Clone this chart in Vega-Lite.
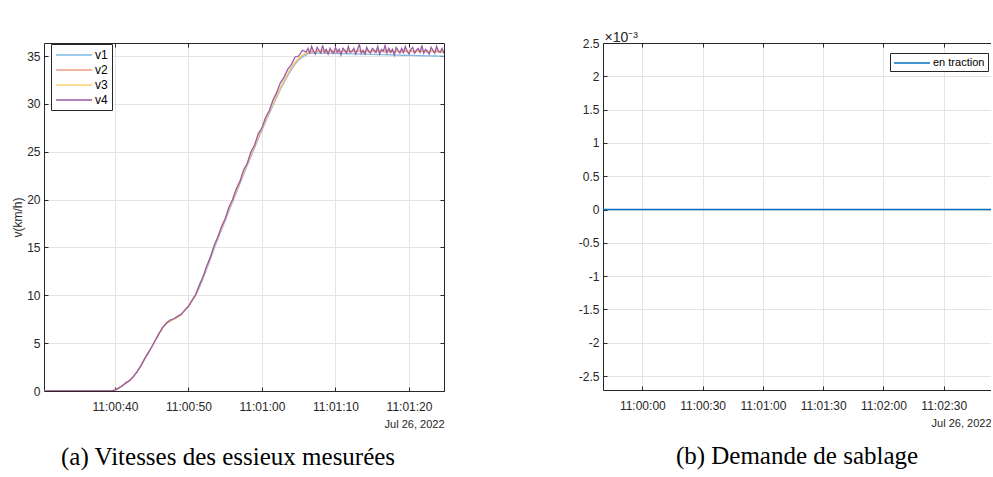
{
"$schema": "https://vega.github.io/schema/vega-lite/v6.json",
"background": "white",
"padding": {"left": 11, "top": 30, "right": 0, "bottom": 2},
"bounds": "flush",
"spacing": 159,
"resolve": {"scale": {"color": "independent"}, "legend": {"color": "independent"}},
"config": {
  "view": {"stroke": null},
  "font": "Liberation Sans",
  "axis": {"domainColor": "#262626", "tickColor": "#262626", "labelColor": "#262626", "titleColor": "#262626", "labelFont": "Liberation Sans", "titleFont": "Liberation Sans", "labelFontSize": 12, "titleFontSize": 12, "titleFontWeight": "normal", "gridColor": "#e4e4e4", "domainWidth": 1, "tickWidth": 1},
  "legend": {"labelFont": "Liberation Sans", "labelColor": "#000000", "strokeColor": "#262626", "fillColor": "white", "title": null}
},
"hconcat": [
{
  "width": 400, "height": 348,
  "title": {"text": "(a) Vitesses des essieux mesurées", "orient": "bottom", "anchor": "middle", "frame": "bounds", "font": "Liberation Serif", "fontSize": 25, "fontWeight": "normal", "color": "#000000", "offset": 16},
  "data": {"values": [
{"t":30.35,"v1":0,"v2":0,"v3":0,"v4":0},
{"t":39.5,"v1":0,"v2":0,"v3":0,"v4":0},
{"t":40,"v1":0.1,"v2":0.1,"v3":0.1,"v4":0.1},
{"t":40.5,"v1":0.3,"v2":0.3,"v3":0.3,"v4":0.3},
{"t":41,"v1":0.55,"v2":0.55,"v3":0.55,"v4":0.55},
{"t":41.5,"v1":0.85,"v2":0.85,"v3":0.85,"v4":0.85},
{"t":42,"v1":1.1,"v2":1.1,"v3":1.1,"v4":1.1},
{"t":42.5,"v1":1.5,"v2":1.5,"v3":1.5,"v4":1.5},
{"t":43,"v1":2.0,"v2":2.0,"v3":2.0,"v4":2.0},
{"t":43.5,"v1":2.6,"v2":2.6,"v3":2.6,"v4":2.6},
{"t":44,"v1":3.3,"v2":3.3,"v3":3.3,"v4":3.3},
{"t":44.5,"v1":3.95,"v2":3.95,"v3":3.95,"v4":3.95},
{"t":45,"v1":4.6,"v2":4.6,"v3":4.6,"v4":4.6},
{"t":45.5,"v1":5.3,"v2":5.3,"v3":5.3,"v4":5.3},
{"t":46,"v1":6.0,"v2":6.0,"v3":6.0,"v4":6.0},
{"t":46.5,"v1":6.65,"v2":6.65,"v3":6.65,"v4":6.65},
{"t":47,"v1":7.05,"v2":7.05,"v3":7.05,"v4":7.1},
{"t":47.5,"v1":7.3,"v2":7.3,"v3":7.3,"v4":7.4},
{"t":48,"v1":7.5,"v2":7.5,"v3":7.5,"v4":7.55},
{"t":48.5,"v1":7.7,"v2":7.7,"v3":7.7,"v4":7.8},
{"t":49,"v1":8.0,"v2":8.0,"v3":8.0,"v4":8.0},
{"t":49.5,"v1":8.4,"v2":8.4,"v3":8.4,"v4":8.45},
{"t":50,"v1":8.85,"v2":8.85,"v3":8.85,"v4":8.85},
{"t":50.5,"v1":9.45,"v2":9.45,"v3":9.45,"v4":9.5},
{"t":51,"v1":10.05,"v2":10.1,"v3":10.1,"v4":10.1},
{"t":51.5,"v1":10.85,"v2":11.0,"v3":11.05,"v4":11.1},
{"t":52,"v1":11.8,"v2":11.95,"v3":12.0,"v4":11.95},
{"t":52.5,"v1":12.8,"v2":12.95,"v3":13.0,"v4":13.1},
{"t":53,"v1":13.85,"v2":14.0,"v3":14.05,"v4":14.0},
{"t":53.5,"v1":14.9,"v2":15.05,"v3":15.1,"v4":15.2},
{"t":54,"v1":15.9,"v2":16.05,"v3":16.1,"v4":16.1},
{"t":54.5,"v1":16.85,"v2":17.0,"v3":17.05,"v4":17.2},
{"t":55,"v1":17.8,"v2":17.95,"v3":18.0,"v4":18.0},
{"t":55.5,"v1":18.8,"v2":18.95,"v3":19.0,"v4":19.2},
{"t":56,"v1":19.75,"v2":19.9,"v3":19.95,"v4":20.0},
{"t":56.5,"v1":20.7,"v2":20.85,"v3":20.9,"v4":21.1},
{"t":57,"v1":21.65,"v2":21.8,"v3":21.85,"v4":21.9},
{"t":57.5,"v1":22.6,"v2":22.75,"v3":22.8,"v4":23.1},
{"t":58,"v1":23.55,"v2":23.7,"v3":23.75,"v4":23.8},
{"t":58.5,"v1":24.5,"v2":24.65,"v3":24.7,"v4":25.0},
{"t":59,"v1":25.45,"v2":25.6,"v3":25.65,"v4":25.7},
{"t":59.5,"v1":26.35,"v2":26.5,"v3":26.55,"v4":26.9},
{"t":60,"v1":27.25,"v2":27.4,"v3":27.45,"v4":27.5},
{"t":60.5,"v1":28.15,"v2":28.3,"v3":28.35,"v4":28.6},
{"t":61,"v1":29.0,"v2":29.15,"v3":29.2,"v4":29.3},
{"t":61.5,"v1":29.85,"v2":30.0,"v3":30.05,"v4":30.4},
{"t":62,"v1":30.7,"v2":30.85,"v3":30.9,"v4":31.2},
{"t":62.5,"v1":31.5,"v2":31.65,"v3":31.7,"v4":32.2},
{"t":63,"v1":32.25,"v2":32.4,"v3":32.45,"v4":32.8},
{"t":63.5,"v1":32.95,"v2":33.1,"v3":33.15,"v4":33.6},
{"t":64,"v1":33.6,"v2":33.75,"v3":33.8,"v4":34.1},
{"t":64.5,"v1":34.15,"v2":34.3,"v3":34.35,"v4":34.9},
{"t":65,"v1":34.6,"v2":34.75,"v3":34.8,"v4":35.0},
{"t":65.5,"v1":34.9,"v2":35.05,"v3":35.1,"v4":35.6},
{"t":66,"v1":35.1,"v2":35.25,"v3":35.3,"v4":35.4},
{"t":66.25,"v1":35.28,"v2":35.35,"v3":35.4,"v4":35.8},
{"t":66.5,"v1":35.3,"v2":35.45,"v3":35.5,"v4":35.3},
{"t":66.75,"v1":35.3,"v2":35.4,"v3":35.6,"v4":36.0},
{"t":67,"v1":35.32,"v2":35.5,"v3":35.55,"v4":35.5},
{"t":67.25,"v1":35.3,"v2":35.35,"v3":35.45,"v4":35.2},
{"t":67.5,"v1":35.3,"v2":35.45,"v3":35.6,"v4":35.9},
{"t":67.75,"v1":35.28,"v2":35.5,"v3":35.5,"v4":35.6},
{"t":68,"v1":35.3,"v2":35.4,"v3":35.65,"v4":35.3},
{"t":68.25,"v1":35.3,"v2":35.55,"v3":35.5,"v4":36.1},
{"t":68.5,"v1":35.28,"v2":35.4,"v3":35.55,"v4":35.4},
{"t":68.75,"v1":35.3,"v2":35.45,"v3":35.6,"v4":35.7},
{"t":69,"v1":35.27,"v2":35.35,"v3":35.45,"v4":35.2},
{"t":69.25,"v1":35.28,"v2":35.5,"v3":35.55,"v4":35.8},
{"t":69.5,"v1":35.27,"v2":35.4,"v3":35.6,"v4":35.5},
{"t":69.75,"v1":35.25,"v2":35.45,"v3":35.5,"v4":35.3},
{"t":70,"v1":35.27,"v2":35.5,"v3":35.65,"v4":35.9},
{"t":70.25,"v1":35.25,"v2":35.35,"v3":35.5,"v4":35.4},
{"t":70.5,"v1":35.25,"v2":35.45,"v3":35.55,"v4":35.7},
{"t":70.75,"v1":35.26,"v2":35.4,"v3":35.45,"v4":35.1},
{"t":71,"v1":35.24,"v2":35.5,"v3":35.6,"v4":35.8},
{"t":71.25,"v1":35.25,"v2":35.45,"v3":35.55,"v4":35.6},
{"t":71.5,"v1":35.24,"v2":35.35,"v3":35.5,"v4":35.3},
{"t":71.75,"v1":35.23,"v2":35.5,"v3":35.65,"v4":36.0},
{"t":72,"v1":35.24,"v2":35.4,"v3":35.5,"v4":35.4},
{"t":72.25,"v1":35.22,"v2":35.45,"v3":35.55,"v4":35.5},
{"t":72.5,"v1":35.23,"v2":35.5,"v3":35.6,"v4":35.8},
{"t":72.75,"v1":35.22,"v2":35.35,"v3":35.45,"v4":35.2},
{"t":73,"v1":35.2,"v2":35.45,"v3":35.6,"v4":35.7},
{"t":73.25,"v1":35.22,"v2":35.55,"v3":35.65,"v4":36.2},
{"t":73.5,"v1":35.2,"v2":35.4,"v3":35.5,"v4":35.3},
{"t":73.75,"v1":35.2,"v2":35.45,"v3":35.55,"v4":35.6},
{"t":74,"v1":35.19,"v2":35.35,"v3":35.5,"v4":35.2},
{"t":74.25,"v1":35.2,"v2":35.5,"v3":35.6,"v4":35.9},
{"t":74.5,"v1":35.18,"v2":35.45,"v3":35.55,"v4":35.5},
{"t":74.75,"v1":35.18,"v2":35.4,"v3":35.5,"v4":35.3},
{"t":75,"v1":35.17,"v2":35.5,"v3":35.6,"v4":35.8},
{"t":75.25,"v1":35.18,"v2":35.45,"v3":35.55,"v4":35.6},
{"t":75.5,"v1":35.16,"v2":35.35,"v3":35.5,"v4":35.4},
{"t":75.75,"v1":35.15,"v2":35.55,"v3":35.65,"v4":36.0},
{"t":76,"v1":35.16,"v2":35.4,"v3":35.5,"v4":35.2},
{"t":76.25,"v1":35.15,"v2":35.45,"v3":35.55,"v4":35.7},
{"t":76.5,"v1":35.14,"v2":35.5,"v3":35.6,"v4":35.5},
{"t":76.75,"v1":35.15,"v2":35.4,"v3":35.55,"v4":36.1},
{"t":77,"v1":35.13,"v2":35.5,"v3":35.6,"v4":35.3},
{"t":77.25,"v1":35.12,"v2":35.45,"v3":35.55,"v4":35.8},
{"t":77.5,"v1":35.13,"v2":35.35,"v3":35.5,"v4":35.4},
{"t":77.75,"v1":35.12,"v2":35.5,"v3":35.6,"v4":35.7},
{"t":78,"v1":35.1,"v2":35.4,"v3":35.45,"v4":35.1},
{"t":78.25,"v1":35.11,"v2":35.45,"v3":35.6,"v4":35.9},
{"t":78.5,"v1":35.1,"v2":35.5,"v3":35.55,"v4":35.6},
{"t":78.75,"v1":35.1,"v2":35.4,"v3":35.5,"v4":35.3},
{"t":79,"v1":35.08,"v2":35.45,"v3":35.6,"v4":35.8},
{"t":79.25,"v1":35.09,"v2":35.35,"v3":35.5,"v4":35.4},
{"t":79.5,"v1":35.08,"v2":35.5,"v3":35.6,"v4":36.0},
{"t":79.75,"v1":35.07,"v2":35.45,"v3":35.55,"v4":35.5},
{"t":80,"v1":35.07,"v2":35.4,"v3":35.5,"v4":35.2},
{"t":80.25,"v1":35.06,"v2":35.45,"v3":35.55,"v4":35.7},
{"t":80.5,"v1":35.06,"v2":35.5,"v3":35.6,"v4":35.9},
{"t":80.75,"v1":35.05,"v2":35.35,"v3":35.45,"v4":35.3},
{"t":81,"v1":35.05,"v2":35.45,"v3":35.55,"v4":35.6},
{"t":81.25,"v1":35.04,"v2":35.5,"v3":35.6,"v4":35.8},
{"t":81.5,"v1":35.04,"v2":35.4,"v3":35.5,"v4":35.4},
{"t":81.75,"v1":35.03,"v2":35.55,"v3":35.6,"v4":36.1},
{"t":82,"v1":35.03,"v2":35.4,"v3":35.5,"v4":35.3},
{"t":82.25,"v1":35.02,"v2":35.45,"v3":35.55,"v4":35.7},
{"t":82.5,"v1":35.02,"v2":35.4,"v3":35.5,"v4":35.5},
{"t":82.75,"v1":35.01,"v2":35.35,"v3":35.45,"v4":35.2},
{"t":83,"v1":35.01,"v2":35.5,"v3":35.6,"v4":35.9},
{"t":83.25,"v1":35.0,"v2":35.45,"v3":35.55,"v4":35.6},
{"t":83.5,"v1":35.0,"v2":35.35,"v3":35.5,"v4":35.3},
{"t":83.75,"v1":35.0,"v2":35.5,"v3":35.6,"v4":36.0},
{"t":84,"v1":34.99,"v2":35.4,"v3":35.5,"v4":35.5},
{"t":84.25,"v1":34.99,"v2":35.35,"v3":35.45,"v4":35.4},
{"t":84.5,"v1":34.98,"v2":35.45,"v3":35.55,"v4":35.8},
{"t":84.75,"v1":34.98,"v2":35.3,"v3":35.4,"v4":35.3}
  ]},
  "transform": [{"fold": ["v1", "v2", "v3", "v4"], "as": ["serie", "vitesse"]}],
  "layer": [
    {
      "mark": {"type": "line", "strokeWidth": 1.3, "clip": true},
      "encoding": {
        "x": {"field": "t", "type": "quantitative", "scale": {"domain": [30.35, 84.76], "nice": false, "zero": false},
          "axis": {"orient": "bottom", "values": [40, 50, 60, 70, 80], "labelExpr": "'11:0' + floor(datum.value/60) + ':' + (datum.value%60 < 10 ? '0' : '') + (datum.value%60)", "grid": true, "tickSize": -4, "labelPadding": 14, "title": "Jul 26, 2022", "titleAnchor": "end", "titlePadding": 6, "titleFontSize": 11}},
        "y": {"field": "vitesse", "type": "quantitative", "scale": {"domain": [0, 36.36], "nice": false, "zero": false},
          "axis": {"orient": "left", "values": [0, 5, 10, 15, 20, 25, 30, 35], "grid": true, "tickSize": -4, "labelPadding": 8, "title": "v(km/h)", "titlePadding": 2}},
        "color": {"field": "serie", "type": "nominal", "scale": {"domain": ["v1", "v2", "v3", "v4"], "range": ["#7fbbe3", "#ee9e80", "#f6cf72", "#9b5aa8"]},
          "legend": {"orient": "none", "legendX": 7, "legendY": 1, "symbolType": "M-3,0H3", "symbolSize": 144, "symbolStrokeWidth": 1.5, "symbolOffset": 12, "labelOffset": 14, "labelFontSize": 12, "padding": 4, "rowPadding": 2}}
      }
    },
    {
      "mark": {"type": "line", "opacity": 0},
      "encoding": {
        "x": {"field": "t", "type": "quantitative", "axis": {"orient": "top", "values": [40, 50, 60, 70, 80], "labels": false, "grid": false, "tickSize": -4, "title": null}},
        "y": {"field": "vitesse", "type": "quantitative", "axis": {"orient": "right", "values": [0, 5, 10, 15, 20, 25, 30, 35], "labels": false, "grid": false, "tickSize": -4, "title": null}}
      }
    }
  ],
  "resolve": {"axis": {"x": "independent", "y": "independent"}}
},
{
  "width": 388, "height": 347,
  "title": {"text": "(b) Demande de sablage", "orient": "bottom", "anchor": "middle", "frame": "group", "font": "Liberation Serif", "fontSize": 25, "fontWeight": "normal", "color": "#000000", "offset": 16},
  "data": {"values": [{"t": -19.56, "d": 0}, {"t": 173.5, "d": 0}]},
  "layer": [
    {
      "mark": {"type": "line", "strokeWidth": 1.5, "clip": true},
      "encoding": {
        "x": {"field": "t", "type": "quantitative", "scale": {"domain": [-19.56, 173.5], "nice": false, "zero": false},
          "axis": {"orient": "bottom", "values": [0, 30, 60, 90, 120, 150], "labelExpr": "'11:0' + floor(datum.value/60) + ':' + (datum.value%60 < 10 ? '0' : '') + (datum.value%60)", "grid": true, "tickSize": -4, "labelPadding": 14, "title": "Jul 26, 2022", "titleAnchor": "end", "titlePadding": 6, "titleFontSize": 11}},
        "y": {"field": "d", "type": "quantitative", "scale": {"domain": [-2.71, 2.5], "nice": false, "zero": false},
          "axis": {"orient": "left", "values": [-2.5, -2, -1.5, -1, -0.5, 0, 0.5, 1, 1.5, 2, 2.5], "labelExpr": "'' + datum.value", "grid": true, "tickSize": -4, "labelPadding": 8, "title": "×10⁻³", "titleFontSize": 14, "titleAngle": 0, "titleAlign": "left", "titleBaseline": "alphabetic", "titleX": 1, "titleY": -2}},
        "color": {"datum": "en traction", "type": "nominal", "scale": {"range": ["#0072BD"]},
          "legend": {"orient": "none", "legendX": 287, "legendY": 10, "symbolType": "M-3,0H3", "symbolSize": 144, "symbolStrokeWidth": 1.5, "symbolOffset": 12, "labelOffset": 14, "labelFontSize": 11, "padding": 3}}
      }
    },
    {
      "mark": {"type": "line", "opacity": 0},
      "encoding": {
        "x": {"field": "t", "type": "quantitative", "axis": {"orient": "top", "values": [0, 30, 60, 90, 120, 150], "labels": false, "grid": false, "tickSize": -4, "title": null}},
        "y": {"field": "d", "type": "quantitative", "axis": null}
      }
    }
  ],
  "resolve": {"axis": {"x": "independent", "y": "independent"}}
}
]
}
